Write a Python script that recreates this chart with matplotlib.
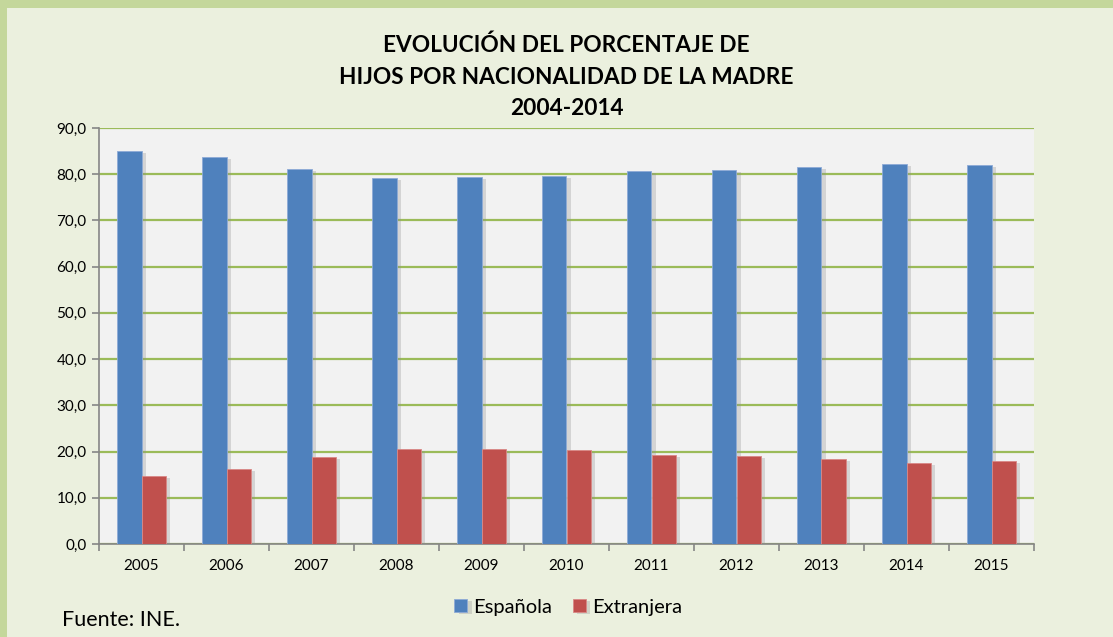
import matplotlib
matplotlib.use("Agg")
import matplotlib.pyplot as plt
import matplotlib.patheffects as pe
from matplotlib.patches import Rectangle
import numpy as np

years = ["2005", "2006", "2007", "2008", "2009", "2010", "2011", "2012", "2013", "2014", "2015"]
espanola = [85.1, 83.7, 81.1, 79.2, 79.5, 79.7, 80.7, 80.9, 81.6, 82.3, 82.0]
extranjera = [14.8, 16.2, 18.8, 20.6, 20.5, 20.3, 19.3, 19.1, 18.4, 17.6, 18.0]
series_names = ["Española", "Extranjera"]
title_text = "EVOLUCIÓN DEL PORCENTAJE DE\nHIJOS POR NACIONALIDAD DE LA MADRE\n2004-2014"
source_text = "Fuente: INE."

plt.rcParams['font.family'] = ['Lato', 'DejaVu Sans']

W, H = 1113, 637
fig = plt.figure(figsize=(W / 100, H / 100), dpi=100)
fig.patch.set_facecolor('#ebf0de')
# outer green border (top and left)
fig.add_artist(Rectangle((0, 1 - 8 / H), 1, 8 / H, transform=fig.transFigure,
                         facecolor='#c4d79b', edgecolor='none', zorder=0))
fig.add_artist(Rectangle((0, 0), 7 / W, 1, transform=fig.transFigure,
                         facecolor='#c4d79b', edgecolor='none', zorder=0))

left, right, bottom, top = 99, 1034, 544, 128
ax = fig.add_axes([left / W, 1 - bottom / H, (right - left) / W, (bottom - top) / H])
ax.set_facecolor('#f2f2f2')

x = np.arange(len(years))
bw = 0.287
shadow = [pe.SimplePatchShadow(offset=(3, -1.5), shadow_rgbFace='#8f8f8f', alpha=0.3), pe.Normal()]
b1 = ax.bar(x - bw / 2, espanola, bw, color='#4f81bd', label=series_names[0], zorder=3,
            edgecolor='#8eaad6', linewidth=0.6)
b2 = ax.bar(x + bw / 2, extranjera, bw, color='#c0504d', label=series_names[1], zorder=3,
            edgecolor='#d98886', linewidth=0.6)
for b in list(b1) + list(b2):
    b.set_path_effects(shadow)

ax.set_xlim(-0.5, len(years) - 0.5)
ax.set_ylim(0, 90)
ax.set_yticks(np.arange(0, 91, 10))
ax.set_yticklabels([f"{v:.1f}".replace('.', ',') for v in np.arange(0, 91, 10)], fontsize=11)
ax.yaxis.grid(True, color='#9bbb59', linewidth=1.6, zorder=1)
ax.set_axisbelow(True)

ax.set_xticks(x)
ax.set_xticklabels(years, fontsize=11)
ax.tick_params(axis='x', length=0, pad=11)
ax.set_xticks(np.arange(-0.5, len(years), 1), minor=True)
ax.tick_params(axis='x', which='minor', length=5, color='#868686', width=1.2)
ax.tick_params(axis='y', length=5, color='#868686', width=1.2, pad=4)

for s in ['top', 'right']:
    ax.spines[s].set_visible(False)
for s in ['left', 'bottom']:
    ax.spines[s].set_color('#868686')
    ax.spines[s].set_linewidth(1.2)

fig.text((left + right) / 2 / W, 1 - 77 / H, title_text, ha='center', va='center',
         fontsize=16.3, fontweight='bold', linespacing=1.62)

leg = fig.legend(handles=[b1, b2], labels=series_names, loc='center',
                 bbox_to_anchor=(568 / W, 1 - 607 / H), ncol=2, frameon=False,
                 fontsize=14.5, handlelength=0.65, handleheight=0.65,
                 handletextpad=0.3, columnspacing=1.0)

fig.text(62 / W, 1 - 620 / H, source_text, ha='left', va='center', fontsize=15.5)

fig.savefig('out.png', dpi=100, facecolor=fig.get_facecolor())
